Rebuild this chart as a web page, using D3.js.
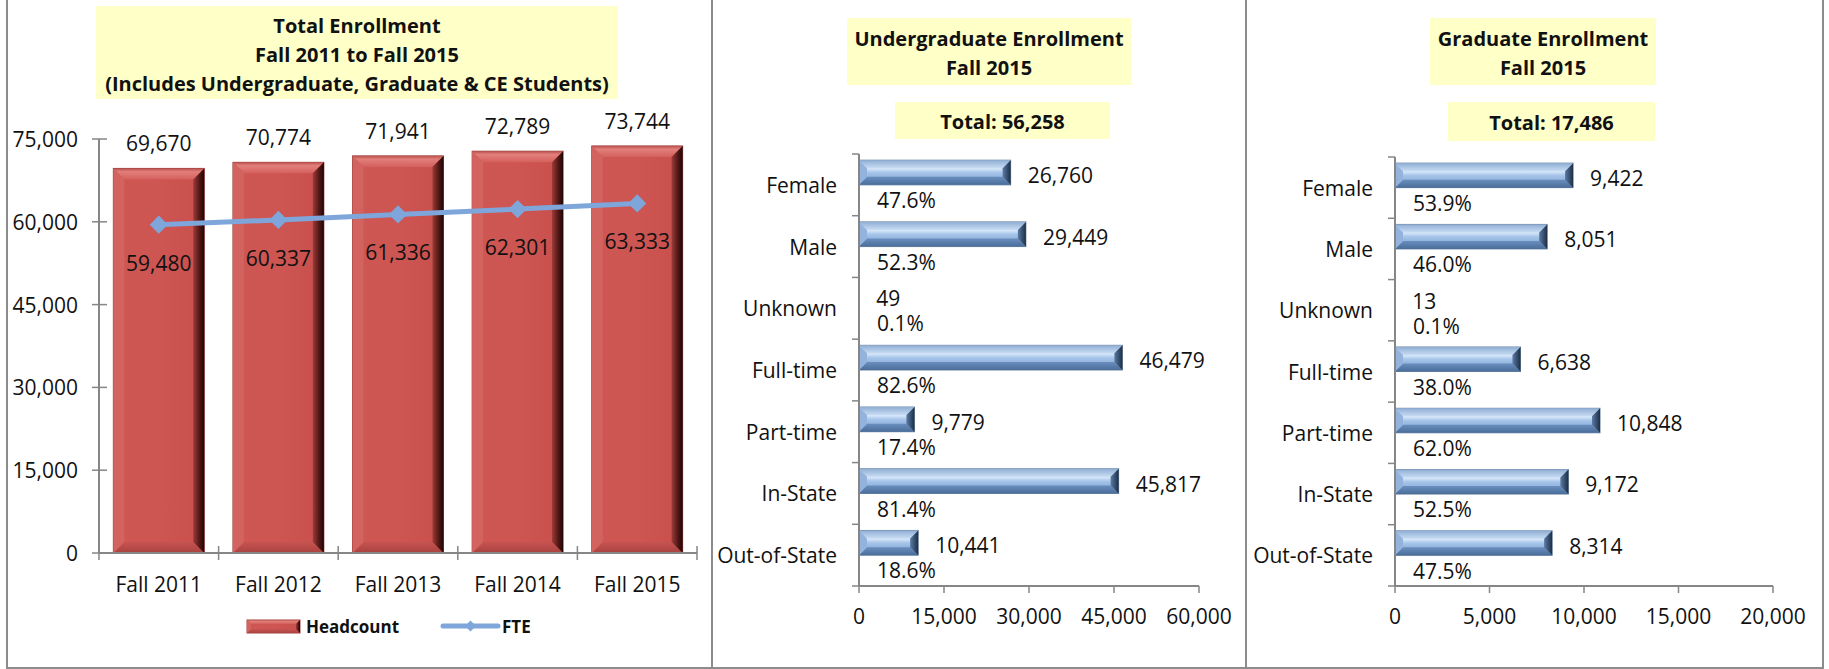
<!DOCTYPE html>
<html>
<head>
<meta charset="utf-8">
<script src="https://cdn.jsdelivr.net/npm/d3@7"></script>
<style>
body{margin:0;background:#fff;}
text{font-family:"Open Sans",sans-serif;fill:#111;}
</style>
</head>
<body>
<script>
// data
var years=["Fall 2011","Fall 2012","Fall 2013","Fall 2014","Fall 2015"];
var headcount=[69670,70774,71941,72789,73744];
var fte=[59480,60337,61336,62301,63333];

var kategorie=["Female","Male","Unknown","Full-time","Part-time","In-State","Out-of-State"];
var ugLiczby=[26760,29449,49,46479,9779,45817,10441];
var ugProcent=["47.6%","52.3%","0.1%","82.6%","17.4%","81.4%","18.6%"];
var gradLiczby=[9422,8051,13,6638,10848,9172,8314];
var gradProcent=["53.9%","46.0%","0.1%","38.0%","62.0%","52.5%","47.5%"];

var ugTicks=[0,15000,30000,45000,60000];
var gradTicks=[0,5000,10000,15000,20000];
var totalTicks=[0,15000,30000,45000,60000,75000];

var fmt=d3.format(",");
var rozmiar="21px";

var svg=d3.select("body").append("svg")
	.attr("width",1829)
	.attr("height",669);

var defs=svg.append("defs");
function gradient(id,stops,vertical)
{
	var g=defs.append("linearGradient").attr("id",id)
		.attr("x1",0).attr("y1",0)
		.attr("x2",vertical?0:1).attr("y2",vertical?1:0);
	stops.forEach(function(s){
		g.append("stop").attr("offset",s[0]).attr("stop-color",s[1]);
	});
}
gradient("redBody",[[0,"#cf5753"],[0.5,"#cd5552"],[1,"#c84f4c"]],false);
gradient("redTop",[[0,"#b9514e"],[0.3,"#e27f7b"],[1,"#d4615d"]],true);
gradient("redRight",[[0,"#9c3b38"],[0.6,"#4e1614"],[1,"#1e0606"]],false);
gradient("redBottom",[[0,"#c65451"],[1,"#a9423f"]],true);
gradient("blueBody",[[0,"#a9c6ea"],[0.35,"#d5e6f8"],[0.5,"#a7c5ea"],[1,"#7097c8"]],true);
gradient("blueTop",[[0,"#8faed4"],[1,"#c8dcf3"]],true);
gradient("blueBottom",[[0,"#6a8fbf"],[1,"#4a6d99"]],true);
gradient("blueRight",[[0,"#5a7aa4"],[1,"#1d2e45"]],false);

// bevelled bar drawn from its rectangle
function bevelBar(g,x,y,w,h,b,kolory)
{
	if(w<=0) return;
	b=Math.min(b,w/2,h/2);
	g.append("rect").attr("x",x).attr("y",y).attr("width",w).attr("height",h)
		.style("fill",kolory.body).style("stroke",kolory.stroke).style("stroke-width",1);
	var pkt=function(p){return p.map(function(q){return q.join(",");}).join(" ");};
	g.append("polygon").attr("points",pkt([[x,y],[x+w,y],[x+w-b,y+b],[x+b,y+b]])).style("fill",kolory.top);
	g.append("polygon").attr("points",pkt([[x,y+h],[x+w,y+h],[x+w-b,y+h-b],[x+b,y+h-b]])).style("fill",kolory.bottom);
	g.append("polygon").attr("points",pkt([[x,y],[x+b,y+b],[x+b,y+h-b],[x,y+h]])).style("fill",kolory.left);
	g.append("polygon").attr("points",pkt([[x+w,y],[x+w-b,y+b],[x+w-b,y+h-b],[x+w,y+h]])).style("fill",kolory.right);
}
var czerwony={body:"url(#redBody)",top:"url(#redTop)",bottom:"url(#redBottom)",left:"#d3635f",right:"url(#redRight)",stroke:"#9b3e3b"};
var niebieski={body:"url(#blueBody)",top:"url(#blueTop)",bottom:"url(#blueBottom)",left:"#93b3dc",right:"url(#blueRight)",stroke:"#6f86a3"};

// panel frames
[[7,712],[712,1246],[1246,1823]].forEach(function(p){
	svg.append("rect").attr("x",p[0]).attr("y",-5).attr("width",p[1]-p[0]).attr("height",673)
		.style("fill","none").style("stroke","#8c8c8c").style("stroke-width",2);
});

function titleBox(x1,y1,x2,y2,linie,srodekY)
{
	svg.append("rect").attr("x",x1).attr("y",y1).attr("width",x2-x1).attr("height",y2-y1)
		.style("fill","#ffffc8");
	linie.forEach(function(l,i){
		svg.append("text").attr("x",(x1+x2)/2).attr("y",srodekY[i])
			.attr("text-anchor","middle").attr("dominant-baseline","central")
			.style("font-weight","bold").style("font-size","20px").text(l);
	});
}

// ---------- total enrollment ----------
titleBox(96,6,618,99,["Total Enrollment","Fall 2011 to Fall 2015","(Includes Undergraduate, Graduate & CE Students)"],[25,54,83]);

var x0=d3.scaleBand().domain(years).range([99,697]).paddingInner(0.24).paddingOuter(0.12);
var y0=d3.scaleLinear().domain([0,75000]).range([553,139]);
var osie="#868686";

var lewy=svg.append("g");
lewy.append("line").attr("x1",99).attr("x2",99).attr("y1",y0(75000)).attr("y2",y0(0))
	.style("stroke",osie).style("stroke-width",2);
totalTicks.forEach(function(t){
	lewy.append("line").attr("x1",92).attr("x2",107).attr("y1",y0(t)).attr("y2",y0(t))
		.style("stroke",osie).style("stroke-width",1.5);
	lewy.append("text").attr("x",78).attr("y",y0(t)).attr("text-anchor","end")
		.attr("dominant-baseline","central").style("font-size",rozmiar).text(fmt(t));
});
years.forEach(function(r,i){
	var g=lewy.append("g");
	bevelBar(g,x0(r),y0(headcount[i]),x0.bandwidth(),y0(0)-y0(headcount[i]),11,czerwony);
	lewy.append("text").attr("x",x0(r)+x0.bandwidth()/2).attr("y",y0(headcount[i])-25)
		.attr("text-anchor","middle").attr("dominant-baseline","central")
		.style("font-size",rozmiar).text(fmt(headcount[i]));
	lewy.append("text").attr("x",x0(r)+x0.bandwidth()/2).attr("y",584)
		.attr("text-anchor","middle").attr("dominant-baseline","central")
		.style("font-size",rozmiar).text(r);
});
lewy.append("line").attr("x1",99).attr("x2",697).attr("y1",y0(0)).attr("y2",y0(0))
	.style("stroke",osie).style("stroke-width",2);
var krokX=x0.step();
for(var k=0;k<=years.length;k++)
{
	var xx=99+k*krokX;
	lewy.append("line").attr("x1",xx).attr("x2",xx).attr("y1",y0(0)-7).attr("y2",y0(0)+7)
		.style("stroke",osie).style("stroke-width",1.5);
}
// FTE line
var liniaFte=d3.line()
	.x(function(d,i){return x0(years[i])+x0.bandwidth()/2;})
	.y(function(d){return y0(d);});
lewy.append("path").attr("d",liniaFte(fte))
	.style("fill","none").style("stroke","#7ea6db").style("stroke-width",5);
fte.forEach(function(v,i){
	var cx=x0(years[i])+x0.bandwidth()/2;
	lewy.append("path").attr("d",d3.symbol(d3.symbolSquare,165)())
		.attr("transform","translate("+cx+","+y0(v)+") rotate(45)")
		.style("fill","#7ea6db");
	lewy.append("text").attr("x",cx).attr("y",y0(v)+38)
		.attr("text-anchor","middle").attr("dominant-baseline","central")
		.style("font-size",rozmiar).text(fmt(v));
});
// legend
var leg=svg.append("g");
bevelBar(leg.append("g"),247,620,53,13,4,czerwony);
leg.append("text").attr("x",306).attr("y",626).attr("dominant-baseline","central")
	.style("font-size","17px").style("font-weight","bold").text("Headcount");
leg.append("line").attr("x1",443).attr("x2",498).attr("y1",626).attr("y2",626)
	.style("stroke","#7ea6db").style("stroke-width",5).style("stroke-linecap","round");
leg.append("path").attr("d",d3.symbol(d3.symbolSquare,60)())
	.attr("transform","translate(470.5,626) rotate(45)").style("fill","#7ea6db");
leg.append("text").attr("x",502).attr("y",626).attr("dominant-baseline","central")
	.style("font-size","17px").style("font-weight","bold").text("FTE");

// ---------- horizontal bar panels ----------
function rysujPoziomy(o)
{
	var x=d3.scaleLinear().domain([0,o.ticks[o.ticks.length-1]]).range([o.x0,o.x1]);
	var y=d3.scaleBand().domain(kategorie).range([o.y0,o.y1]);
	var g=svg.append("g");
	var bw=y.bandwidth();
	kategorie.forEach(function(c,i){
		bevelBar(g.append("g"),x(0),y(c)+bw*0.1,x(o.liczby[i])-x(0),bw*0.4,8,niebieski);
		g.append("text").attr("x",x(o.liczby[i])+17).attr("y",y(c)+21)
			.attr("dominant-baseline","central").style("font-size",rozmiar).text(fmt(o.liczby[i]));
		g.append("text").attr("x",x(0)+18).attr("y",y(c)+46)
			.attr("dominant-baseline","central").style("font-size",rozmiar).text(o.procent[i]);
		g.append("text").attr("x",x(0)-22).attr("y",y(c)+bw/2)
			.attr("text-anchor","end").attr("dominant-baseline","central")
			.style("font-size",rozmiar).text(c);
	});
	g.append("line").attr("x1",x(0)).attr("x2",x(0)).attr("y1",o.y0).attr("y2",o.y1)
		.style("stroke",osie).style("stroke-width",2);
	for(var k=0;k<=kategorie.length;k++)
	{
		var yy=o.y0+k*y.step();
		g.append("line").attr("x1",x(0)-7).attr("x2",x(0)).attr("y1",yy).attr("y2",yy)
			.style("stroke",osie).style("stroke-width",1.5);
	}
	g.append("line").attr("x1",x(0)).attr("x2",o.x1).attr("y1",o.y1).attr("y2",o.y1)
		.style("stroke",osie).style("stroke-width",2);
	o.ticks.forEach(function(t){
		g.append("line").attr("x1",x(t)).attr("x2",x(t)).attr("y1",o.y1).attr("y2",o.y1+7)
			.style("stroke",osie).style("stroke-width",1.5);
		g.append("text").attr("x",x(t)).attr("y",616).attr("text-anchor","middle")
			.attr("dominant-baseline","central").style("font-size",rozmiar).text(fmt(t));
	});
}

// total = gender breakdown (Female + Male + Unknown)
titleBox(847,18,1131,85,["Undergraduate Enrollment","Fall 2015"],[38,67]);
titleBox(895,102,1110,139,["Total: "+fmt(d3.sum(ugLiczby.slice(0,3)))],[121]);
rysujPoziomy({x0:859,x1:1199,y0:154,y1:586,ticks:ugTicks,liczby:ugLiczby,procent:ugProcent});

titleBox(1430,18,1656,85,["Graduate Enrollment","Fall 2015"],[38,67]);
titleBox(1448,102,1655,141,["Total: "+fmt(d3.sum(gradLiczby.slice(0,3)))],[122]);
rysujPoziomy({x0:1395,x1:1773,y0:157,y1:586,ticks:gradTicks,liczby:gradLiczby,procent:gradProcent});
</script>
</body>
</html>
